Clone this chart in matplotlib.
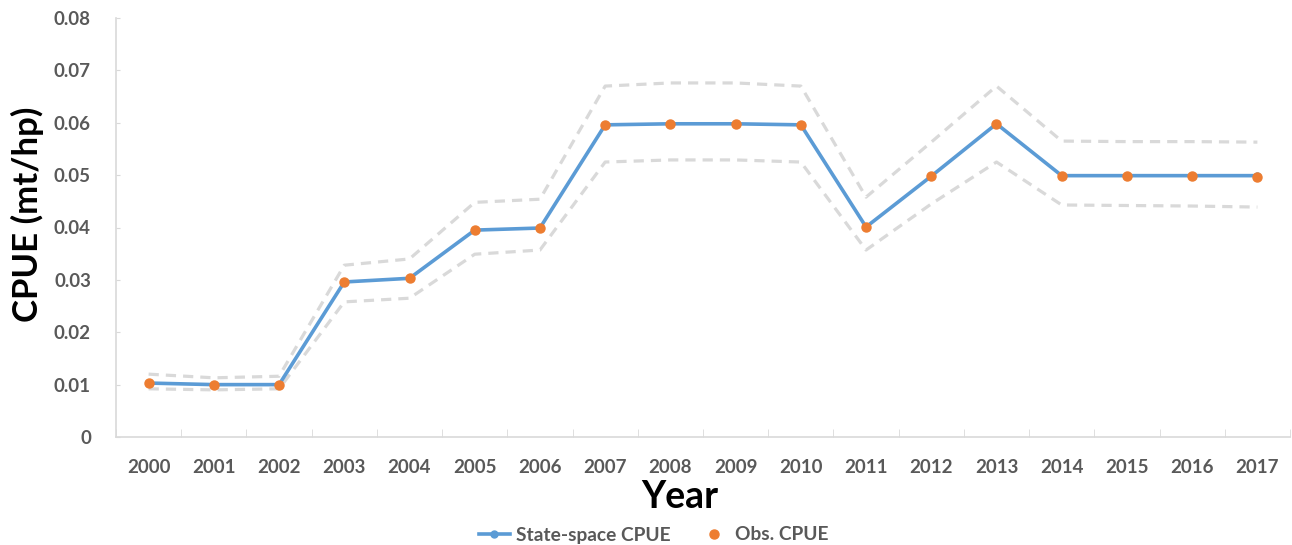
import numpy as np
import matplotlib
matplotlib.use("Agg")
import matplotlib.pyplot as plt

# data
years = [str(y) for y in range(2000, 2018)]
state_space = [0.0103, 0.0100, 0.0100, 0.0296, 0.0303, 0.0395, 0.0399, 0.0596, 0.0598, 0.0598,
               0.0596, 0.0401, 0.0498, 0.0598, 0.0499, 0.0499, 0.0499, 0.0499]
observed = [0.0103, 0.0100, 0.0100, 0.0296, 0.0303, 0.0395, 0.0399, 0.0596, 0.0598, 0.0598,
            0.0596, 0.0401, 0.0498, 0.0598, 0.0499, 0.0499, 0.0499, 0.0496]
upper = [0.0120, 0.0113, 0.0116, 0.0328, 0.0340, 0.0448, 0.0454, 0.0670, 0.0676, 0.0676,
         0.0670, 0.0458, 0.0563, 0.0670, 0.0565, 0.0564, 0.0564, 0.0563]
lower = [0.0092, 0.0090, 0.0092, 0.0258, 0.0265, 0.0349, 0.0357, 0.0525, 0.0529, 0.0529,
         0.0525, 0.0357, 0.0445, 0.0525, 0.0443, 0.0442, 0.0441, 0.0439]
y_ticks = [0, 0.01, 0.02, 0.03, 0.04, 0.05, 0.06, 0.07, 0.08]
y_tick_labels = ["0", "0.01", "0.02", "0.03", "0.04", "0.05", "0.06", "0.07", "0.08"]

plt.rcParams["font.family"] = ["Lato", "DejaVu Sans"]
grey_text = "#595959"
axis_grey = "#d9d9d9"

fig = plt.figure(figsize=(12.92, 5.45), dpi=100)
ax = fig.add_axes([116 / 1292, 108 / 545, 1174 / 1292, 419 / 545])

x = np.arange(len(years))

# confidence bounds
ax.plot(x, upper, color="#d9d9d9", lw=2.3, dashes=(3.2, 2.2), zorder=1)
ax.plot(x, lower, color="#d9d9d9", lw=2.3, dashes=(3.2, 2.2), zorder=1)

# state-space estimate and observed values
ax.plot(x, state_space, color="#5b9bd5", lw=2.6, marker="o", ms=5,
        label="State-space CPUE", zorder=2)
ax.plot(x, observed, color="#ed7d31", lw=0, marker="o", ms=6.5,
        label="Obs. CPUE", zorder=3)

ax.set_xlim(-0.5, len(years) - 0.5)
ax.set_ylim(0, 0.08)

# category labels at centres, ticks at boundaries
ax.set_xticks(x)
ax.set_xticklabels(years)
ax.tick_params(axis="x", which="major", length=0, pad=16, labelsize=13.5, labelcolor=grey_text)
ax.set_xticks(np.arange(-0.5, len(years)), minor=True)
ax.tick_params(axis="x", which="minor", direction="in", length=6, color=axis_grey)
for lbl in ax.get_xticklabels():
    lbl.set_fontweight("bold")

ax.set_yticks(y_ticks)
ax.set_yticklabels(y_tick_labels)
ax.tick_params(axis="y", direction="in", length=3, color=axis_grey, pad=18,
               labelsize=13.5, labelcolor=grey_text)
for lbl in ax.get_yticklabels():
    lbl.set_fontweight("bold")

for side in ["top", "right"]:
    ax.spines[side].set_visible(False)
for side in ["left", "bottom"]:
    ax.spines[side].set_color(axis_grey)
    ax.spines[side].set_linewidth(1.2)

fig.text(680 / 1292, 1 - 497 / 545, "Year", fontsize=27, fontweight="bold",
         ha="center", va="center")
fig.text(27 / 1292, 1 - 214 / 545, "CPUE (mt/hp)", fontsize=25, fontweight="bold",
         ha="center", va="center", rotation=90)

leg = fig.legend(loc="center", ncol=2, frameon=False, fontsize=13.8,
                 bbox_to_anchor=(654 / 1292, 1 - 535 / 545), handlelength=1.6,
                 handletextpad=0.3, columnspacing=1.5)
for t in leg.get_texts():
    t.set_color(grey_text)
    t.set_fontweight("bold")

fig.savefig("out.png", dpi=100)
